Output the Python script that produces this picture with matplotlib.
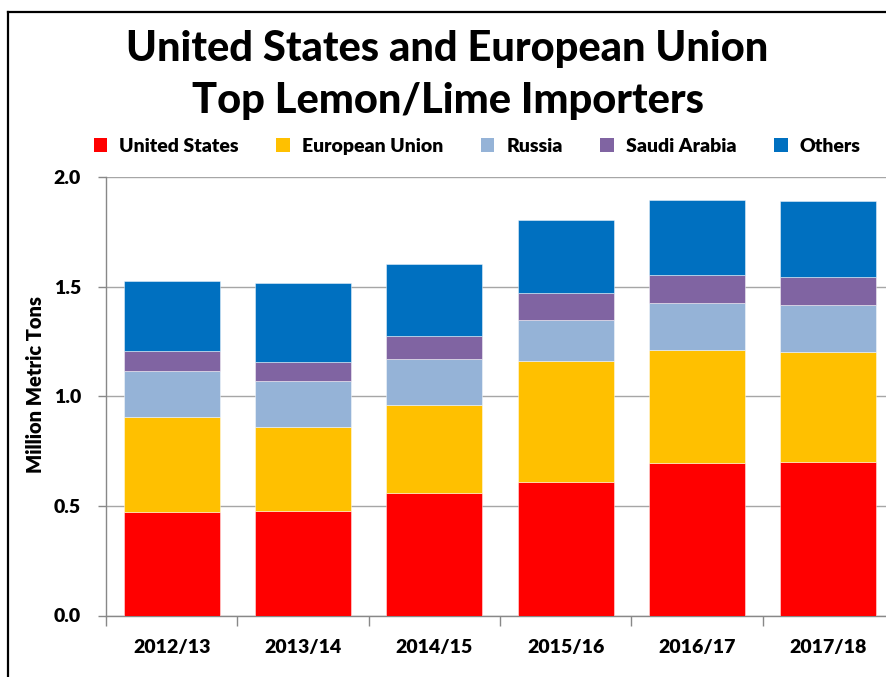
import matplotlib
matplotlib.use("Agg")
import matplotlib.pyplot as plt
from matplotlib.lines import Line2D
from matplotlib.patches import Patch
import numpy as np

plt.rcParams['font.family'] = ['Lato', 'DejaVu Sans']
plt.rcParams['font.weight'] = 'bold'

# Marketing years and import volumes (million metric tons)
years = ["2012/13", "2013/14", "2014/15", "2015/16", "2016/17", "2017/18"]
united_states = [0.473, 0.476, 0.558, 0.610, 0.696, 0.699]
european_union = [0.431, 0.384, 0.401, 0.552, 0.515, 0.502]
russia = [0.211, 0.210, 0.211, 0.187, 0.215, 0.214]
saudi_arabia = [0.090, 0.085, 0.103, 0.122, 0.126, 0.128]
others = [0.320, 0.360, 0.329, 0.332, 0.342, 0.349]

series_names = ["United States", "European Union", "Russia", "Saudi Arabia", "Others"]
series_colors = ["#FF0000", "#FFC000", "#95B3D7", "#8064A2", "#0070C0"]
series_values = [united_states, european_union, russia, saudi_arabia, others]

W, H = 887, 677
fig = plt.figure(figsize=(W / 100, H / 100), dpi=100)
fig.patch.set_facecolor("white")

ax_left, ax_bottom = 106 / W, 1 - 615.5 / H
ax_w, ax_h = 788 / W, (615.5 - 177) / H
ax = fig.add_axes([ax_left, ax_bottom, ax_w, ax_h])

x = np.arange(len(years))
bottom = np.zeros(len(years))
for name, color, vals in zip(series_names, series_colors, series_values):
    vals = np.array(vals)
    ax.bar(x, vals, width=0.733, bottom=bottom, color=color,
           edgecolor=(1, 1, 1, 0.45), linewidth=0.7, zorder=3, label=name)
    bottom += vals

ax.set_xlim(-0.5, len(years) - 0.5)
ax.set_ylim(0, 2.0)
ax.set_yticks([0.0, 0.5, 1.0, 1.5, 2.0])
ax.set_yticklabels([f"{v:.1f}" for v in [0.0, 0.5, 1.0, 1.5, 2.0]],
                   fontsize=14, fontweight='heavy')
ax.yaxis.grid(True, color="#A6A6A6", linewidth=1.0, zorder=0)
ax.set_axisbelow(True)

# category labels centred, tick marks on the boundaries between categories
ax.set_xticks(x)
ax.set_xticklabels(years, fontsize=14, fontweight='heavy')
ax.tick_params(axis='x', which='major', length=0, pad=17)
ax.set_xticks(np.arange(-0.5, len(years) + 0.5, 1.0), minor=True)
ax.tick_params(axis='x', which='minor', length=7, color="#888888", width=1)
ax.tick_params(axis='y', length=6, color="#888888", width=1, pad=12)

for side in ["top", "right"]:
    ax.spines[side].set_visible(False)
for side in ["left", "bottom"]:
    ax.spines[side].set_color("#888888")
    ax.spines[side].set_linewidth(1.0)

ax.set_ylabel("Million Metric Tons", fontsize=14.5, fontweight='heavy')
ax.yaxis.set_label_coords((45 - 106) / 788, (615.5 - 384.5) / 438.5)

# title
fig.text(447.5 / W, 1 - 61 / H, "United States and European Union",
         ha='center', va='baseline', fontsize=30, fontweight='black')
fig.text(447.5 / W, 1 - 113 / H, "Top Lemon/Lime Importers",
         ha='center', va='baseline', fontsize=30, fontweight='black')

# legend
handles = [Patch(facecolor=c, edgecolor='none') for c in series_colors]
fig.legend(handles, series_names, loc='center', ncol=5,
           bbox_to_anchor=(477 / W, 1 - 146.5 / H), frameon=False,
           handlelength=0.7, handleheight=0.7,
           handletextpad=0.6, columnspacing=1.95,
           prop={'weight': 'heavy', 'size': 14})

# outer frame
fig.add_artist(Line2D([8 / W, 8 / W], [0, 1 - 12 / H], color='black',
                      linewidth=1.6, transform=fig.transFigure))
fig.add_artist(Line2D([8 / W, 1], [1 - 12 / H, 1 - 12 / H], color='black',
                      linewidth=1.6, transform=fig.transFigure))

fig.savefig("out.png", dpi=100, facecolor="white")
